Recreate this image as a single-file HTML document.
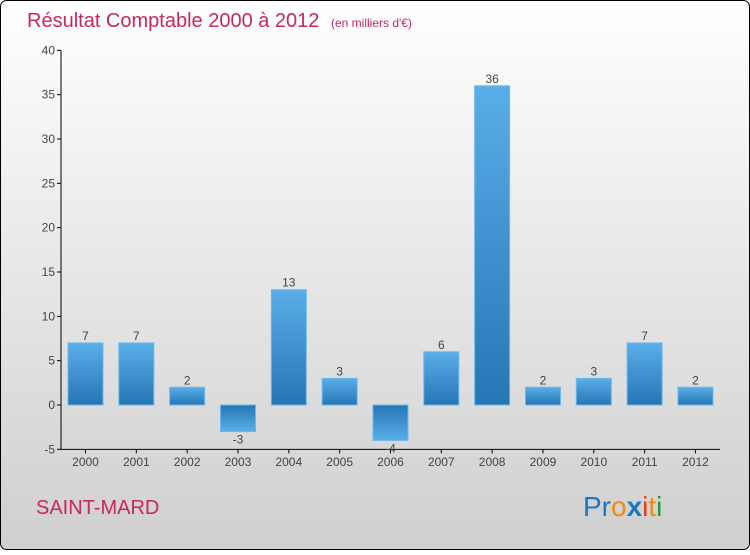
<!DOCTYPE html>
<html><head><meta charset="utf-8"><style>
html,body{margin:0;padding:0}
body{width:750px;height:550px;overflow:hidden;font-family:"Liberation Sans",sans-serif}
</style></head><body>
<svg width="750" height="550" xmlns="http://www.w3.org/2000/svg">
<defs>
<linearGradient id="bg" x1="0" y1="0" x2="0" y2="1"><stop offset="0" stop-color="#ffffff"/><stop offset="1" stop-color="#cfcfcf"/></linearGradient>
<linearGradient id="bp" x1="0" y1="0" x2="0" y2="1"><stop offset="0" stop-color="#5aaee8"/><stop offset="1" stop-color="#2676b4"/></linearGradient>
<linearGradient id="bn" x1="0" y1="0" x2="0" y2="1"><stop offset="0" stop-color="#2676b4"/><stop offset="1" stop-color="#5aaee8"/></linearGradient>
</defs>
<rect x="0.5" y="0.5" width="749" height="549" rx="6" fill="url(#bg)" stroke="#000"/>
<text x="27" y="27" font-size="20" fill="#c8285a">Résultat Comptable 2000 à 2012 <tspan font-size="12" dx="6">(en milliers d'€)</tspan></text>
<g id="axes"></g>
<g id="bars"></g>
<text x="36" y="514" font-size="20" fill="#c8285a">SAINT-MARD</text>
<g font-size="28" font-family="'Liberation Sans',sans-serif">
<text x="583" y="516"><tspan fill="#1a78c8">Pr</tspan><tspan fill="#f08a10">o</tspan><tspan fill="#1a78c8" font-weight="bold">x</tspan><tspan fill="#e84010">i</tspan><tspan fill="#f08a10">t</tspan><tspan fill="#2a9a3a">i</tspan></text>
</g>
</svg>
<script>
const categories=["2000","2001","2002","2003","2004","2005","2006","2007","2008","2009","2010","2011","2012"];
const values=[7,7,2,-3,13,3,-4,6,36,2,3,7,2];
const yTicks=[-5,0,5,10,15,20,25,30,35,40];
const NS="http://www.w3.org/2000/svg";
const y0=405, unit=(450-51)/45;
function y(v){return y0-v*unit;}
function x(i){return 85.5+i*50.83;}
function mk(t,a,p){const e=document.createElementNS(NS,t);for(const k in a)e.setAttribute(k,a[k]);p.appendChild(e);return e;}
const ax=document.getElementById('axes'), bg=document.getElementById('bars');
const yl=mk('line',{x1:61,y1:y(40),x2:61,y2:y(-5),stroke:'#000'},ax);


const xl=mk('line',{x1:61,y1:y(-5),x2:720,y2:y(-5),stroke:'#000'},ax);


yTicks.forEach(t=>{
 mk('line',{x1:57,y1:y(t),x2:61,y2:y(t),stroke:'#000'},ax);
 const tx=mk('text',{x:55,y:y(t)+4,'font-size':12,'text-anchor':'end',fill:'#444'},ax);tx.textContent=t;
 
 
});
categories.forEach((c,i)=>{
 const v=values[i],cx=x(i);
 mk('line',{x1:cx,y1:y(-5),x2:cx,y2:y(-5)+4,stroke:'#000'},ax);
 const tl=mk('text',{x:cx,y:466,'font-size':12,'text-anchor':'middle',fill:'#444'},ax);tl.textContent=c;
 
 
 const top=Math.min(y(v),y0),h=Math.abs(y(v)-y0);
 const r=mk('rect',{x:cx-17.5,y:top,width:35,height:h,fill:v>=0?'url(#bp)':'url(#bn)',stroke:'#6bb8ee','stroke-width':1},bg);
 
 
 const lt=mk('text',{x:cx,y:v>=0?y(v)-3:y(v)+12,'font-size':12,'text-anchor':'middle',fill:'#444'},bg);lt.textContent=v;
 
 
});
</script>
</body></html>
